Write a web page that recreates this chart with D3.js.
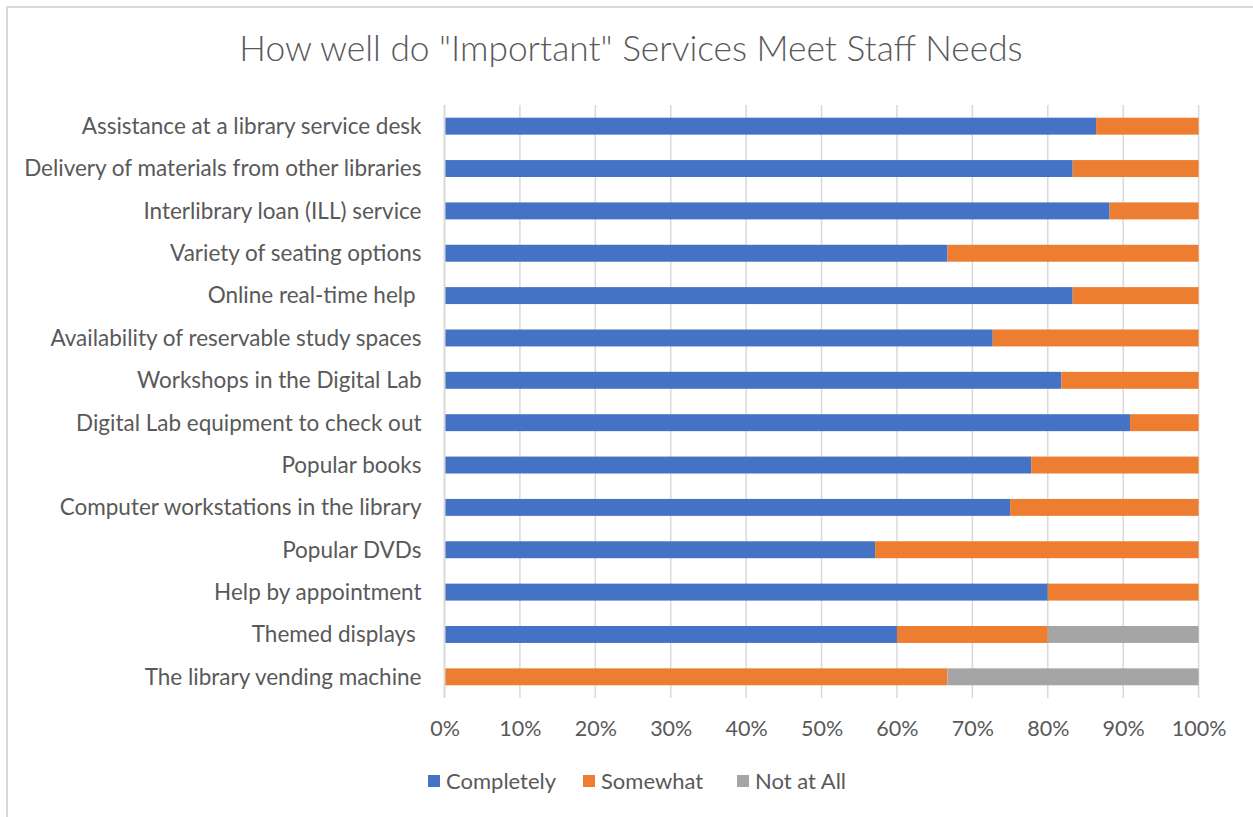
<!DOCTYPE html>
<html>
<head>
<meta charset="utf-8">
<script src="https://cdn.jsdelivr.net/npm/d3@7"></script>
<style>
  html, body { margin: 0; padding: 0; background: #fff; }
  svg { display: block; }
  text { font-family: Lato, "Open Sans", sans-serif; fill: #595959; white-space: pre; }
</style>
</head>
<body>
<svg id="chart" width="1253" height="817"></svg>
<script>
const categories = [
  "Assistance at a library service desk",
  "Delivery of materials from other libraries",
  "Interlibrary loan (ILL) service",
  "Variety of seating options",
  "Online real-time help ",
  "Availability of reservable study spaces",
  "Workshops in the Digital Lab",
  "Digital Lab equipment to check out",
  "Popular books",
  "Computer workstations in the library",
  "Popular DVDs",
  "Help by appointment",
  "Themed displays ",
  "The library vending machine"
];
const completely = [0.864, 0.833, 0.882, 0.667, 0.833, 0.727, 0.818, 0.909, 0.778, 0.750, 0.571, 0.800, 0.600, 0.000];
const somewhat   = [0.136, 0.167, 0.118, 0.333, 0.167, 0.273, 0.182, 0.091, 0.222, 0.250, 0.429, 0.200, 0.200, 0.667];
const notAtAll   = [0.000, 0.000, 0.000, 0.000, 0.000, 0.000, 0.000, 0.000, 0.000, 0.000, 0.000, 0.000, 0.200, 0.333];
const seriesNames = ["Completely", "Somewhat", "Not at All"];
const seriesColors = ["#4472C4", "#ED7D31", "#A5A5A5"];
const tickValues = [0, 0.1, 0.2, 0.3, 0.4, 0.5, 0.6, 0.7, 0.8, 0.9, 1.0];
const title = 'How well do "Important" Services Meet Staff Needs';

const svg = d3.select("#chart");

// outer chart border
svg.append("rect").attr("x", 7).attr("y", 7).attr("width", 1400).attr("height", 1000)
  .attr("fill", "#fff").attr("stroke", "#d9d9d9").attr("stroke-width", 2);

const plot = { left: 444.5, right: 1198.6, top: 105, bottom: 698 };

const x = d3.scaleLinear().domain([0, 1]).range([plot.left, plot.right]);
const y = d3.scaleBand().domain(categories).range([plot.top, plot.bottom])
  .paddingInner(0.6).paddingOuter(0.3);

// gridlines
svg.append("g").selectAll("line").data(tickValues.filter(d => d > 0)).join("line")
  .attr("x1", d => x(d)).attr("x2", d => x(d))
  .attr("y1", plot.top).attr("y2", plot.bottom)
  .attr("stroke", "#d9d9d9").attr("stroke-width", 1.5);

// stacked data
const rows = categories.map((c, i) => ({ cat: c, Completely: completely[i], Somewhat: somewhat[i], "Not at All": notAtAll[i] }));
const stack = d3.stack().keys(seriesNames)(rows);

svg.append("g").selectAll("g").data(stack).join("g")
  .attr("fill", (d, i) => seriesColors[i])
  .selectAll("rect").data(d => d.filter(s => s[1] - s[0] > 0)).join("rect")
  .attr("x", d => x(d[0]))
  .attr("width", d => x(d[1]) - x(d[0]))
  .attr("y", d => y(d.data.cat))
  .attr("height", y.bandwidth());

// vertical axis line
svg.append("line").attr("x1", plot.left).attr("x2", plot.left)
  .attr("y1", plot.top).attr("y2", plot.bottom)
  .attr("stroke", "#d9d9d9").attr("stroke-width", 2);

const FF = "Lato, 'Open Sans', sans-serif";

// category labels via axis
const yAxis = svg.append("g").attr("transform", `translate(${plot.left - 23},0)`)
  .call(d3.axisLeft(y).tickSize(0).tickPadding(0));
yAxis.select(".domain").remove();
yAxis.selectAll("text").attr("font-size", 22.5).attr("fill", "#595959")
  .style("font-family", FF).attr("dy", "0.35em");

// x tick labels
const xAxis = svg.append("g").attr("transform", `translate(0,${plot.bottom + 30})`)
  .call(d3.axisBottom(x).tickValues(tickValues).tickFormat(d3.format(".0%")).tickSize(0).tickPadding(0));
xAxis.select(".domain").remove();
xAxis.selectAll("text").attr("font-size", 21.5).attr("fill", "#595959")
  .style("font-family", FF).attr("dy", "0.35em");

// title
svg.append("text").attr("x", 631).attr("y", 52).attr("text-anchor", "middle")
  .attr("dominant-baseline", "middle").attr("font-size", 35.3).attr("font-weight", 300).text(title);

// legend
const legendX = [428, 583, 737];
const lg = svg.append("g").selectAll("g").data(seriesNames).join("g")
  .attr("transform", (d, i) => `translate(${legendX[i]},781)`);
lg.append("rect").attr("x", 0).attr("y", -6).attr("width", 12).attr("height", 12)
  .attr("fill", (d, i) => seriesColors[i]);
lg.append("text").attr("x", 18).attr("y", 0).attr("dy", "0.35em")
  .attr("font-size", 22).text(d => d);
</script>
</body>
</html>
